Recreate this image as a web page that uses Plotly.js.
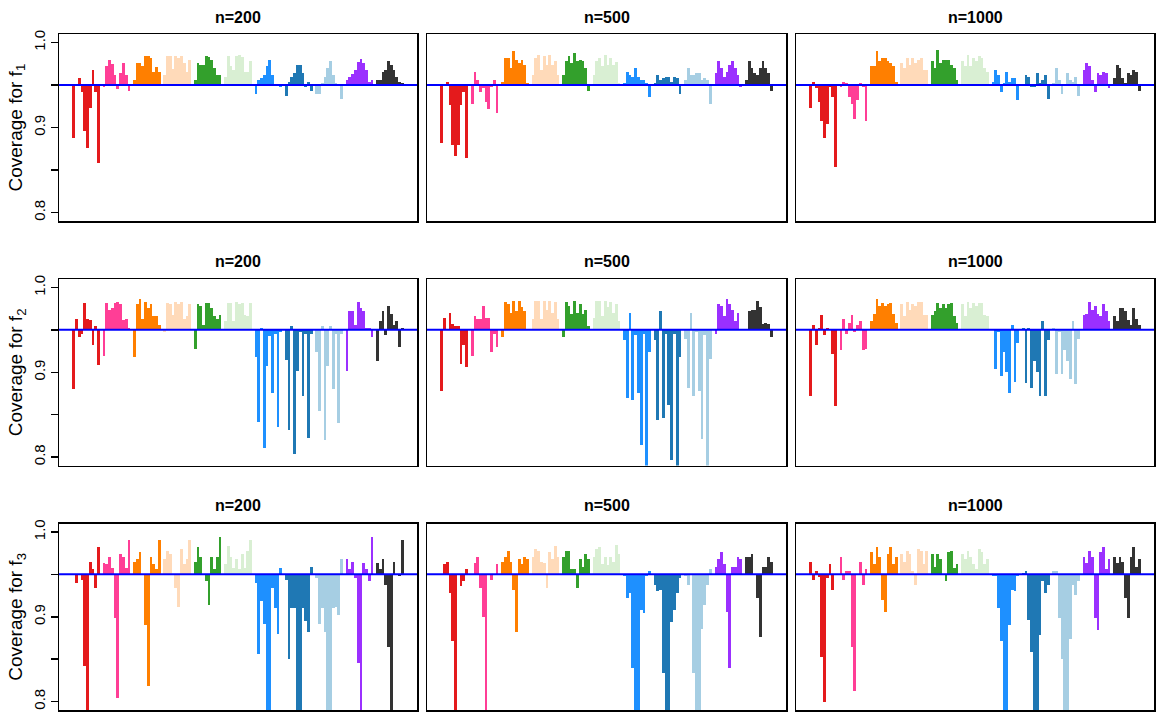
<!DOCTYPE html>
<html><head><meta charset="utf-8">
<script src="https://cdn.plot.ly/plotly-3.0.1.min.js"></script>
<style>html,body{margin:0;padding:0;background:#fff;} #chart{width:1156px;height:713px;}</style>
</head><body><div id="chart"></div>
<script>
// ---- data (coverage, 11 groups x 10 bars per panel) ----
const sampleSizes = ['n=200', 'n=500', 'n=1000'];
const functionLabels = ['1', '2', '3'];
const nominal = 0.95;
const majorTickVals = [0.8, 0.9, 1.0];
const majorTickText = ['0.8', '0.9', '1.0'];
const minorTickVals = [0.85, 0.95];

const cov_f1_n200 = [
  0.888, 0.949, 0.958, 0.942, 0.896, 0.876, 0.923, 0.968, 0.942, 0.858,
  0.948, 0.972, 0.980, 0.975, 0.962, 0.945, 0.964, 0.976, 0.962, 0.943,
  0.956, 0.976, 0.976, 0.972, 0.984, 0.984, 0.982, 0.965, 0.971, 0.965,
  0.962, 0.984, 0.984, 0.969, 0.984, 0.982, 0.984, 0.976, 0.965, 0.980,
  0.956, 0.976, 0.974, 0.974, 0.984, 0.983, 0.980, 0.970, 0.962, 0.962,
  0.960, 0.984, 0.972, 0.968, 0.984, 0.985, 0.983, 0.965, 0.965, 0.978,
  0.940, 0.956, 0.958, 0.962, 0.972, 0.979, 0.962, 0.951, 0.950, 0.948,
  0.937, 0.953, 0.959, 0.964, 0.974, 0.974, 0.964, 0.948, 0.953, 0.943,
  0.939, 0.939, 0.952, 0.959, 0.970, 0.978, 0.962, 0.952, 0.950, 0.934,
  0.956, 0.959, 0.963, 0.968, 0.977, 0.981, 0.976, 0.968, 0.954, 0.956,
  0.956, 0.956, 0.965, 0.968, 0.978, 0.974, 0.968, 0.959, 0.954, 0.952];
const cov_f1_n500 = [
  0.882, 0.950, 0.953, 0.926, 0.879, 0.867, 0.879, 0.926, 0.942, 0.864,
  0.928, 0.965, 0.956, 0.942, 0.946, 0.930, 0.922, 0.948, 0.956, 0.917,
  0.953, 0.982, 0.982, 0.970, 0.990, 0.980, 0.976, 0.980, 0.974, 0.952,
  0.962, 0.982, 0.985, 0.968, 0.984, 0.974, 0.985, 0.974, 0.978, 0.962,
  0.962, 0.978, 0.984, 0.976, 0.988, 0.978, 0.980, 0.978, 0.970, 0.943,
  0.962, 0.978, 0.982, 0.972, 0.985, 0.974, 0.982, 0.974, 0.977, 0.952,
  0.952, 0.965, 0.962, 0.960, 0.970, 0.960, 0.956, 0.956, 0.952, 0.936,
  0.952, 0.962, 0.956, 0.958, 0.960, 0.960, 0.954, 0.960, 0.958, 0.940,
  0.956, 0.970, 0.962, 0.962, 0.964, 0.964, 0.956, 0.958, 0.956, 0.928,
  0.964, 0.978, 0.970, 0.960, 0.965, 0.974, 0.978, 0.970, 0.962, 0.948,
  0.956, 0.978, 0.970, 0.964, 0.962, 0.970, 0.978, 0.970, 0.964, 0.943];
const cov_f1_n1000 = [
  0.923, 0.953, 0.946, 0.930, 0.908, 0.888, 0.904, 0.948, 0.936, 0.853,
  0.948, 0.953, 0.952, 0.936, 0.928, 0.910, 0.932, 0.952, 0.948, 0.908,
  0.972, 0.972, 0.990, 0.978, 0.982, 0.982, 0.978, 0.976, 0.972, 0.954,
  0.976, 0.970, 0.982, 0.974, 0.982, 0.976, 0.980, 0.982, 0.968, 0.968,
  0.978, 0.970, 0.991, 0.976, 0.980, 0.980, 0.980, 0.974, 0.970, 0.956,
  0.978, 0.972, 0.985, 0.972, 0.982, 0.978, 0.984, 0.982, 0.970, 0.965,
  0.954, 0.968, 0.962, 0.942, 0.952, 0.965, 0.954, 0.958, 0.958, 0.932,
  0.950, 0.962, 0.960, 0.948, 0.948, 0.964, 0.952, 0.956, 0.962, 0.934,
  0.952, 0.970, 0.956, 0.940, 0.950, 0.964, 0.956, 0.954, 0.960, 0.937,
  0.968, 0.976, 0.972, 0.956, 0.942, 0.964, 0.962, 0.965, 0.964, 0.946,
  0.958, 0.974, 0.970, 0.958, 0.952, 0.964, 0.962, 0.968, 0.965, 0.943];
const cov_f2_n200 = [
  0.880, 0.963, 0.941, 0.945, 0.982, 0.963, 0.962, 0.932, 0.954, 0.909,
  0.919, 0.982, 0.974, 0.976, 0.982, 0.983, 0.980, 0.962, 0.963, 0.952,
  0.918, 0.980, 0.986, 0.963, 0.983, 0.976, 0.980, 0.966, 0.966, 0.956,
  0.947, 0.982, 0.980, 0.968, 0.983, 0.980, 0.983, 0.963, 0.966, 0.980,
  0.927, 0.980, 0.978, 0.956, 0.982, 0.982, 0.976, 0.966, 0.963, 0.968,
  0.960, 0.982, 0.982, 0.960, 0.983, 0.981, 0.982, 0.968, 0.966, 0.982,
  0.918, 0.841, 0.952, 0.811, 0.907, 0.943, 0.875, 0.945, 0.835, 0.947,
  0.915, 0.832, 0.954, 0.803, 0.901, 0.947, 0.872, 0.945, 0.823, 0.945,
  0.924, 0.854, 0.954, 0.820, 0.907, 0.954, 0.880, 0.945, 0.840, 0.945,
  0.901, 0.972, 0.972, 0.956, 0.983, 0.976, 0.972, 0.952, 0.952, 0.941,
  0.913, 0.960, 0.972, 0.944, 0.978, 0.969, 0.956, 0.960, 0.930, 0.952];
const cov_f2_n500 = [
  0.878, 0.964, 0.951, 0.970, 0.957, 0.954, 0.954, 0.910, 0.932, 0.906,
  0.919, 0.966, 0.963, 0.963, 0.978, 0.964, 0.964, 0.924, 0.945, 0.930,
  0.942, 0.983, 0.980, 0.970, 0.984, 0.972, 0.984, 0.977, 0.972, 0.951,
  0.963, 0.984, 0.984, 0.963, 0.984, 0.974, 0.984, 0.970, 0.983, 0.963,
  0.942, 0.983, 0.978, 0.969, 0.984, 0.970, 0.980, 0.969, 0.974, 0.954,
  0.964, 0.984, 0.984, 0.966, 0.984, 0.977, 0.983, 0.970, 0.980, 0.960,
  0.938, 0.870, 0.970, 0.867, 0.944, 0.876, 0.814, 0.945, 0.785, 0.924,
  0.938, 0.844, 0.972, 0.846, 0.945, 0.861, 0.797, 0.945, 0.785, 0.918,
  0.939, 0.882, 0.970, 0.872, 0.948, 0.878, 0.821, 0.944, 0.785, 0.916,
  0.945, 0.980, 0.978, 0.966, 0.986, 0.980, 0.974, 0.960, 0.970, 0.951,
  0.950, 0.972, 0.974, 0.974, 0.984, 0.977, 0.957, 0.958, 0.957, 0.942];
const cov_f2_n1000 = [
  0.872, 0.956, 0.932, 0.952, 0.968, 0.944, 0.952, 0.950, 0.921, 0.860,
  0.926, 0.963, 0.945, 0.958, 0.968, 0.947, 0.956, 0.960, 0.926, 0.927,
  0.960, 0.969, 0.986, 0.978, 0.982, 0.978, 0.980, 0.982, 0.969, 0.958,
  0.980, 0.966, 0.983, 0.974, 0.980, 0.978, 0.983, 0.983, 0.968, 0.968,
  0.968, 0.972, 0.982, 0.976, 0.980, 0.976, 0.980, 0.982, 0.966, 0.958,
  0.980, 0.966, 0.983, 0.976, 0.982, 0.978, 0.982, 0.982, 0.968, 0.966,
  0.950, 0.904, 0.948, 0.895, 0.924, 0.900, 0.875, 0.956, 0.889, 0.935,
  0.952, 0.887, 0.952, 0.881, 0.913, 0.900, 0.872, 0.960, 0.872, 0.938,
  0.952, 0.898, 0.948, 0.898, 0.926, 0.913, 0.892, 0.960, 0.886, 0.939,
  0.968, 0.969, 0.983, 0.974, 0.978, 0.969, 0.966, 0.980, 0.972, 0.960,
  0.966, 0.960, 0.976, 0.976, 0.972, 0.962, 0.956, 0.976, 0.963, 0.956];
const cov_f3_n200 = [
  0.950, 0.940, 0.950, 0.943, 0.842, 0.785, 0.965, 0.956, 0.934, 0.982,
  0.964, 0.962, 0.971, 0.957, 0.898, 0.804, 0.974, 0.970, 0.957, 0.990,
  0.965, 0.968, 0.976, 0.950, 0.890, 0.818, 0.970, 0.962, 0.956, 0.991,
  0.968, 0.977, 0.974, 0.950, 0.934, 0.911, 0.980, 0.962, 0.968, 0.991,
  0.965, 0.982, 0.970, 0.950, 0.942, 0.914, 0.971, 0.956, 0.971, 0.994,
  0.962, 0.983, 0.970, 0.957, 0.968, 0.956, 0.974, 0.957, 0.977, 0.991,
  0.940, 0.856, 0.919, 0.891, 0.785, 0.785, 0.934, 0.910, 0.880, 0.957,
  0.943, 0.850, 0.910, 0.910, 0.785, 0.785, 0.910, 0.895, 0.882, 0.959,
  0.946, 0.891, 0.910, 0.882, 0.785, 0.785, 0.910, 0.912, 0.902, 0.968,
  0.968, 0.956, 0.965, 0.946, 0.846, 0.785, 0.964, 0.956, 0.942, 0.994,
  0.964, 0.956, 0.968, 0.937, 0.864, 0.790, 0.965, 0.950, 0.948, 0.991];
const cov_f3_n500 = [
  0.950, 0.962, 0.965, 0.928, 0.871, 0.785, 0.951, 0.936, 0.942, 0.956,
  0.951, 0.964, 0.970, 0.934, 0.900, 0.785, 0.951, 0.943, 0.951, 0.962,
  0.965, 0.971, 0.977, 0.965, 0.932, 0.882, 0.968, 0.962, 0.971, 0.968,
  0.970, 0.980, 0.977, 0.965, 0.963, 0.934, 0.976, 0.968, 0.983, 0.971,
  0.970, 0.977, 0.977, 0.956, 0.956, 0.934, 0.968, 0.959, 0.974, 0.968,
  0.971, 0.980, 0.982, 0.962, 0.971, 0.961, 0.971, 0.965, 0.985, 0.974,
  0.948, 0.922, 0.928, 0.839, 0.785, 0.785, 0.908, 0.904, 0.948, 0.954,
  0.937, 0.930, 0.931, 0.834, 0.785, 0.785, 0.894, 0.908, 0.928, 0.946,
  0.948, 0.937, 0.950, 0.834, 0.785, 0.785, 0.885, 0.914, 0.937, 0.956,
  0.959, 0.968, 0.976, 0.962, 0.906, 0.839, 0.959, 0.959, 0.971, 0.968,
  0.970, 0.971, 0.974, 0.950, 0.922, 0.876, 0.959, 0.959, 0.970, 0.965];
const cov_f3_n1000 = [
  0.965, 0.943, 0.954, 0.947, 0.852, 0.800, 0.946, 0.962, 0.932, 0.951,
  0.970, 0.943, 0.954, 0.954, 0.864, 0.812, 0.951, 0.965, 0.937, 0.956,
  0.976, 0.962, 0.982, 0.971, 0.920, 0.906, 0.974, 0.982, 0.962, 0.971,
  0.974, 0.965, 0.977, 0.974, 0.954, 0.937, 0.980, 0.977, 0.962, 0.977,
  0.974, 0.959, 0.974, 0.968, 0.950, 0.942, 0.976, 0.977, 0.957, 0.962,
  0.974, 0.968, 0.977, 0.970, 0.962, 0.956, 0.980, 0.976, 0.962, 0.968,
  0.948, 0.948, 0.910, 0.871, 0.785, 0.785, 0.890, 0.932, 0.930, 0.948,
  0.952, 0.954, 0.896, 0.859, 0.785, 0.785, 0.878, 0.942, 0.928, 0.937,
  0.954, 0.954, 0.898, 0.850, 0.785, 0.785, 0.874, 0.937, 0.926, 0.942,
  0.971, 0.964, 0.977, 0.971, 0.898, 0.884, 0.976, 0.982, 0.956, 0.968,
  0.971, 0.964, 0.971, 0.965, 0.922, 0.898, 0.970, 0.982, 0.959, 0.968];

// ---- styles ----
const groupColors = ['#E41A1C', '#FF3E96', '#FF7F00', '#FFDAB9', '#33A02C', '#D9EFD3',
                     '#1E90FF', '#1F78B4', '#A6CEE3', '#9B30FF', '#333333'];
const nGroups = 11, barsPerGroup = 10, slotsPerGroup = 11;

const panels = [cov_f1_n200, cov_f1_n500, cov_f1_n1000,
                cov_f2_n200, cov_f2_n500, cov_f2_n1000,
                cov_f3_n200, cov_f3_n500, cov_f3_n1000];

const W = 1156, H = 713;
const colPx = [[59, 417], [427, 786], [796, 1154]];
const rowPx = [[34, 221], [279, 465.5], [523.5, 710]];
const titleY = [17, 262, 505];
const nSlots = nGroups * slotsPerGroup - 1;
const pad = 0.04 * nSlots;
const xRange = [-0.5 - pad, nSlots - 0.5 + pad];
const font = 'Liberation Sans, Arial, Helvetica, sans-serif';

const traces = [];
const layout = {
  width: W, height: H, margin: {l: 0, r: 0, t: 0, b: 0},
  paper_bgcolor: '#fff', plot_bgcolor: '#fff',
  showlegend: false, barmode: 'overlay', bargap: 0,
  font: {family: font, color: '#000'},
  shapes: [], annotations: []
};

panels.forEach((vals, p) => {
  const r = Math.floor(p / 3), c = p % 3, k = p + 1;
  const xa = 'x' + (k > 1 ? k : ''), ya = 'y' + (k > 1 ? k : '');
  for (let g = 0; g < nGroups; g++) {
    const xs = [], ys = [];
    for (let j = 0; j < barsPerGroup; j++) {
      xs.push(g * slotsPerGroup + j);
      ys.push(vals[g * barsPerGroup + j] - nominal);
    }
    traces.push({type: 'bar', x: xs, y: ys, base: nominal, width: 1,
      marker: {color: groupColors[g], line: {width: 0}},
      xaxis: xa, yaxis: ya, hoverinfo: 'skip'});
  }
  layout['xaxis' + (k > 1 ? k : '')] = {
    domain: [colPx[c][0] / W, colPx[c][1] / W], range: xRange, anchor: ya,
    showticklabels: false, ticks: '', showgrid: false, zeroline: false,
    showline: true, mirror: true, linecolor: '#000', linewidth: 1.5, fixedrange: true
  };
  const yax = {
    domain: [1 - rowPx[r][1] / H, 1 - rowPx[r][0] / H], range: [0.79, 1.01], anchor: xa,
    showgrid: false, zeroline: false, showline: true, mirror: true,
    linecolor: '#000', linewidth: 1.5, fixedrange: true
  };
  if (c === 0) {
    Object.assign(yax, {tickmode: 'array', tickvals: majorTickVals, ticktext: majorTickText,
      ticks: 'outside', ticklen: 7, tickwidth: 1.5, tickcolor: '#000', tickangle: -90,
      tickfont: {family: font, size: 15, color: '#000'},
      minor: {tickmode: 'array', tickvals: minorTickVals, ticks: 'outside',
              ticklen: 7, tickwidth: 1.5, tickcolor: '#000', showgrid: false}});
  } else {
    Object.assign(yax, {showticklabels: false, ticks: ''});
  }
  layout['yaxis' + (k > 1 ? k : '')] = yax;
  layout.shapes.push({type: 'line', xref: xa + ' domain', yref: ya, x0: 0, x1: 1,
    y0: nominal, y1: nominal, line: {color: '#0000FF', width: 2}, layer: 'above'});
  layout.annotations.push({xref: 'paper', yref: 'paper', showarrow: false,
    x: (colPx[c][0] + colPx[c][1]) / 2 / W, y: 1 - titleY[r] / H,
    xanchor: 'center', yanchor: 'middle',
    text: '<b>' + sampleSizes[c] + '</b>', font: {family: font, size: 16, color: '#000'}});
  if (c === 0) {
    layout.annotations.push({xref: 'paper', yref: 'paper', showarrow: false,
      x: 17 / W, y: 1 - (rowPx[r][0] + rowPx[r][1]) / 2 / H,
      xanchor: 'center', yanchor: 'middle', textangle: -90,
      text: 'Coverage for f<sub>' + functionLabels[r] + '</sub>',
      font: {family: font, size: 19, color: '#000'}});
  }
});

Plotly.newPlot('chart', traces, layout, {displayModeBar: false, staticPlot: true});
</script>
</body></html>
